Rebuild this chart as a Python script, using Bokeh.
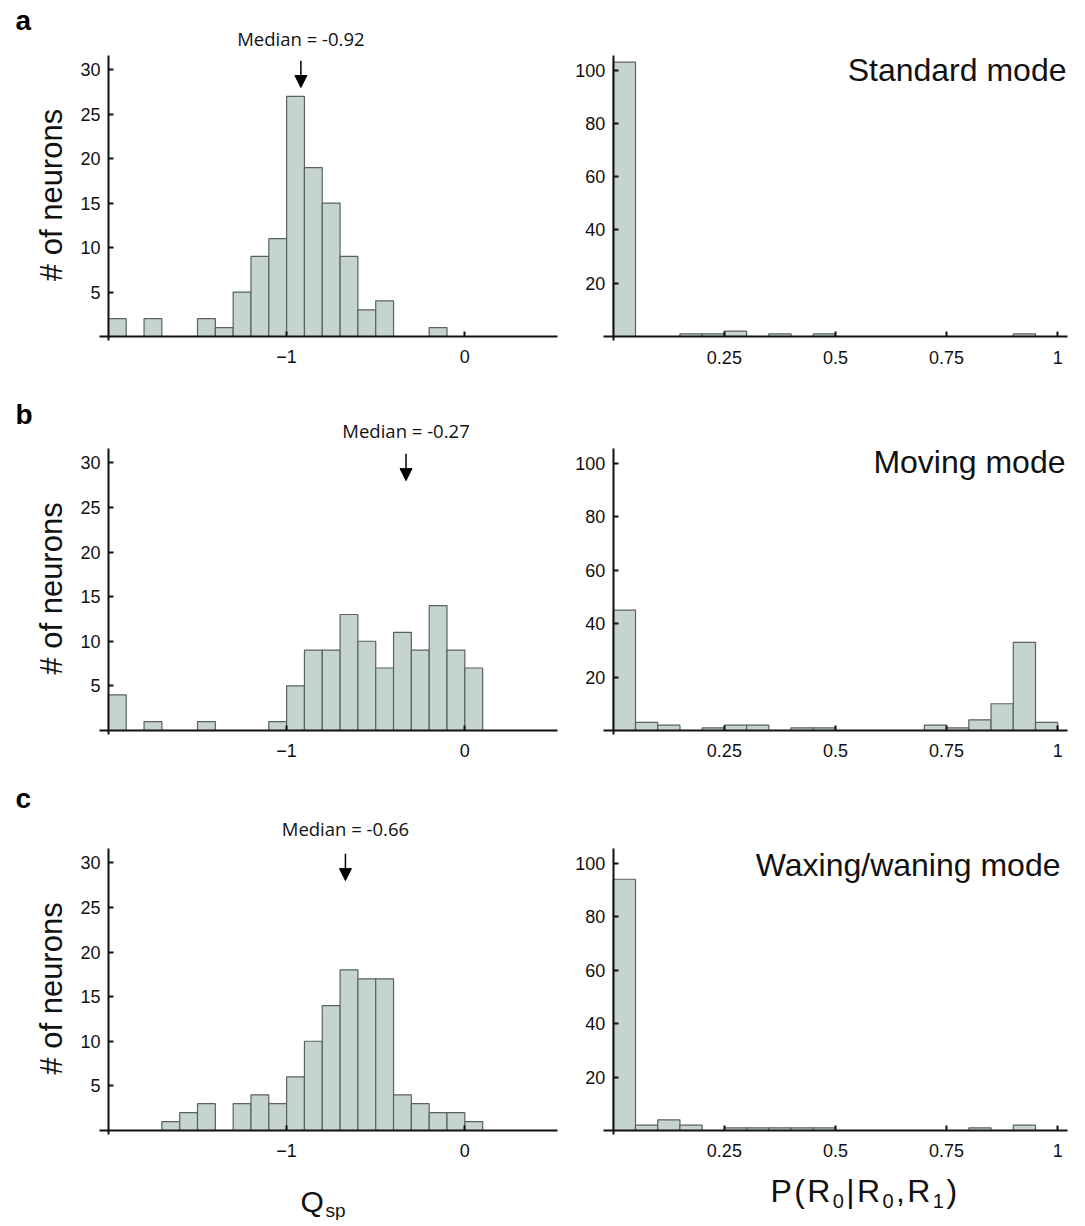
import math
from bokeh.plotting import figure
from bokeh.layouts import column, row
from bokeh.models import Range1d, FixedTicker, Label, Arrow, NormalHead
from bokeh.embed import file_html
from bokeh.resources import INLINE

# ---------------- data ----------------
q_bin_start = -2.0
q_bin_width = 0.1
q_counts_standard = [2, 0, 2, 0, 0, 2, 1, 5, 9, 11, 27, 19, 15, 9, 3, 4, 0, 0, 1, 0, 0]
q_counts_moving = [4, 0, 1, 0, 0, 1, 0, 0, 0, 1, 5, 9, 9, 13, 10, 7, 11, 9, 14, 9, 7]
q_counts_waxing = [0, 0, 0, 1, 2, 3, 0, 3, 4, 3, 6, 10, 14, 18, 17, 17, 4, 3, 2, 2, 1]

p_bin_start = 0.0
p_bin_width = 0.05
p_counts_standard = [103, 0, 0, 1, 1, 2, 0, 1, 0, 1, 0, 0, 0, 0, 0, 0, 0, 0, 1, 0]
p_counts_moving = [45, 3, 2, 0, 1, 2, 2, 0, 1, 1, 0, 0, 0, 0, 2, 1, 4, 10, 33, 3]
p_counts_waxing = [94, 2, 4, 2, 0, 1, 1, 1, 1, 1, 0, 0, 0, 0, 0, 0, 1, 0, 2, 0]

median_labels = ["Median = -0.92", "Median = -0.27", "Median = -0.66"]
median_arrow_x = [-0.92, -0.33, -0.67]
mode_names = ["Standard mode", "Moving mode", "Waxing/waning mode"]
panel_letters = ["a", "b", "c"]

q_ticks = [-1, 0]
q_tick_labels = ["\u22121", "0"]
qy_ticks = [5, 10, 15, 20, 25, 30]
p_ticks = [0.25, 0.5, 0.75, 1]
p_tick_labels = ["0.25", "0.5", "0.75", "1"]
py_ticks = [20, 40, 60, 80, 100]
y_label = "# of neurons"

# ---------------- style / layout ----------------
FONT = "Liberation Sans"
BAR_FILL = "#c6d4d1"
BAR_LINE = "#59625f"
AX = "#111111"
TXT = "#111111"

Q_AXIS = (-2.05, 0.52)     # extent of drawn x axis (left panels)
QY_AXIS = (-0.45, 31.6)    # extent of drawn y axis (left panels)
P_AXIS = (-0.022, 1.022)
PY_AXIS = (-1.5, 105.5)

LEFT_GEO = (99, 458, 9)    # left margin px, axis length px, right margin px
RIGHT_GEO = (37, 464, 10)
COL_LEFT = [0, 566]
ROWS_GEO = [  # (top margin, axis height, bottom margin)
    (55, 285, 52),
    (56, 286, 44),
    (70, 286, 86),
]
ROW_TOP = [0, 392, 778]


def px_to_x(px, col_left, hgeo, xa):
    bl, fw, br = hgeo
    sx = fw / (xa[1] - xa[0])
    return xa[0] + (px - col_left - bl) / sx


def py_to_y(py, row_top, vgeo, ya):
    bt, fh, bb = vgeo
    sy = fh / (ya[1] - ya[0])
    return ya[1] - (py - row_top - bt) / sy


def make_panel(counts, start, width, xa, ya, xticks, xlabels, yticks, axis_x,
               hgeo, vgeo):
    bl, fw, br = hgeo
    bt, fh, bb = vgeo
    sx = fw / (xa[1] - xa[0])
    sy = fh / (ya[1] - ya[0])
    xr = Range1d(xa[0] - bl / sx, xa[1] + br / sx)
    yr = Range1d(ya[0] - bb / sy, ya[1] + bt / sy)
    p = figure(output_backend="svg", toolbar_location=None,
               frame_width=bl + fw + br, frame_height=bt + fh + bb,
               min_border=0, min_border_left=0, min_border_right=0,
               min_border_top=0, min_border_bottom=0,
               x_range=xr, y_range=yr)
    p.title.visible = False
    p.outline_line_color = None
    p.xgrid.visible = False
    p.ygrid.visible = False
    p.background_fill_color = "white"
    p.border_fill_color = "white"

    lefts = [start + i * width for i, c in enumerate(counts) if c > 0]
    rights = [l + width for l in lefts]
    tops = [c for c in counts if c > 0]
    p.quad(left=lefts, right=rights, bottom=0, top=tops,
           fill_color=BAR_FILL, line_color=BAR_LINE, line_width=1.2)

    for ax in (p.xaxis[0], p.yaxis[0]):
        ax.axis_line_width = 2
        ax.axis_line_color = AX
        ax.major_tick_line_width = 2
        ax.major_tick_line_color = AX
        ax.major_tick_in = 5
        ax.major_tick_out = 0
        ax.minor_tick_line_color = None
        ax.major_label_text_font = FONT
        ax.major_label_text_font_size = "18px"
        ax.major_label_text_color = TXT

    p.xaxis[0].fixed_location = 0
    p.xaxis[0].bounds = xa
    p.yaxis[0].fixed_location = axis_x
    p.yaxis[0].bounds = ya
    p.xaxis[0].ticker = FixedTicker(ticks=xticks)
    p.xaxis[0].major_label_overrides = {t: l for t, l in zip(xticks, xlabels)}
    p.xaxis[0].major_label_standoff = 14
    p.yaxis[0].ticker = FixedTicker(ticks=yticks)
    p.yaxis[0].major_label_overrides = {t: str(t) for t in yticks}
    p.yaxis[0].major_label_standoff = 8
    return p


q_sets = [q_counts_standard, q_counts_moving, q_counts_waxing]
p_sets = [p_counts_standard, p_counts_moving, p_counts_waxing]

# text positions in page pixels (x, vertical middle)
letter_py = [19.5, 413.5, 797.5]
median_py = [38.0, 430.0, 828.0]
mode_px = [1066, 1065, 1060]
mode_py = [69.5, 461.0, 864.0]

# Arial/Liberation advance widths (em) for the composed x-label
ADV = {"P": 0.667, "(": 0.333, "R": 0.722, "|": 0.26, ",": 0.278, ")": 0.333,
       "0": 0.556, "1": 0.556}

rows = []
for i in range(3):
    vgeo = ROWS_GEO[i]
    rt = ROW_TOP[i]
    left = make_panel(q_sets[i], q_bin_start, q_bin_width, Q_AXIS, QY_AXIS,
                      q_ticks, q_tick_labels, qy_ticks, q_bin_start,
                      LEFT_GEO, vgeo)
    right = make_panel(p_sets[i], p_bin_start, p_bin_width, P_AXIS, PY_AXIS,
                       p_ticks, p_tick_labels, py_ticks, p_bin_start,
                       RIGHT_GEO, vgeo)
    LX = lambda px: px_to_x(px, COL_LEFT[0], LEFT_GEO, Q_AXIS)
    LY = lambda py: py_to_y(py, rt, vgeo, QY_AXIS)
    RX = lambda px: px_to_x(px, COL_LEFT[1], RIGHT_GEO, P_AXIS)
    RY = lambda py: py_to_y(py, rt, vgeo, PY_AXIS)

    # panel letter
    left.add_layout(Label(x=LX(15), y=LY(letter_py[i]), text=panel_letters[i],
                          text_font=FONT, text_font_style="bold",
                          text_font_size="28px", text_color="black",
                          text_align="left", text_baseline="middle"))
    # y-axis title
    left.add_layout(Label(x=LX(51), y=LY(rt + vgeo[0] + vgeo[1] / 2 - 3),
                          text=y_label, angle=math.pi / 2,
                          text_font=FONT, text_font_size="31px",
                          text_color=TXT,
                          text_align="center", text_baseline="middle"))
    # median annotation
    mx = median_arrow_x[i]
    left.add_layout(Label(x=mx, y=LY(median_py[i]), text=median_labels[i],
                          text_font="Open Sans", text_font_size="18.5px",
                          text_color=TXT,
                          text_align="center", text_baseline="middle"))
    left.add_layout(Arrow(x_start=mx, y_start=31.0, x_end=mx, y_end=28.0,
                          line_width=1.5, line_color="black",
                          end=NormalHead(size=12, fill_color="black",
                                         line_color="black", line_width=1)))
    # mode title
    right.add_layout(Label(x=RX(mode_px[i]), y=RY(mode_py[i]), text=mode_names[i],
                           text_font=FONT, text_font_size="32px",
                           text_color=TXT,
                           text_align="right", text_baseline="middle"))
    if i == 2:
        # Q_sp
        left.add_layout(Label(x=LX(300), y=LY(1201), text="Q", text_font=FONT,
                              text_font_size="30px", text_color=TXT,
                              text_align="left", text_baseline="middle"))
        left.add_layout(Label(x=LX(325), y=LY(1210), text="sp", text_font=FONT,
                              text_font_size="19px", text_color=TXT,
                              text_align="left", text_baseline="middle"))
        # P(R0|R0,R1)
        pieces = [("P", 32), ("(", 32), ("R", 32), ("0", 20),
                  ("|", 32), ("R", 32), ("0", 20), (",", 32),
                  ("R", 32), ("1", 20), (")", 32)]
        gap = 2.4
        px = 770.0
        for txt, fs in pieces:
            py = 1190 if fs == 32 else 1200
            right.add_layout(Label(x=RX(px), y=RY(py), text=txt, text_font=FONT,
                                   text_font_size=f"{fs}px", text_color=TXT,
                                   text_align="left", text_baseline="middle"))
            px += ADV[txt] * fs + gap
    rows.append(row(left, right))

layout = column(*rows)
open("out.html", "w").write(file_html(layout, INLINE))
